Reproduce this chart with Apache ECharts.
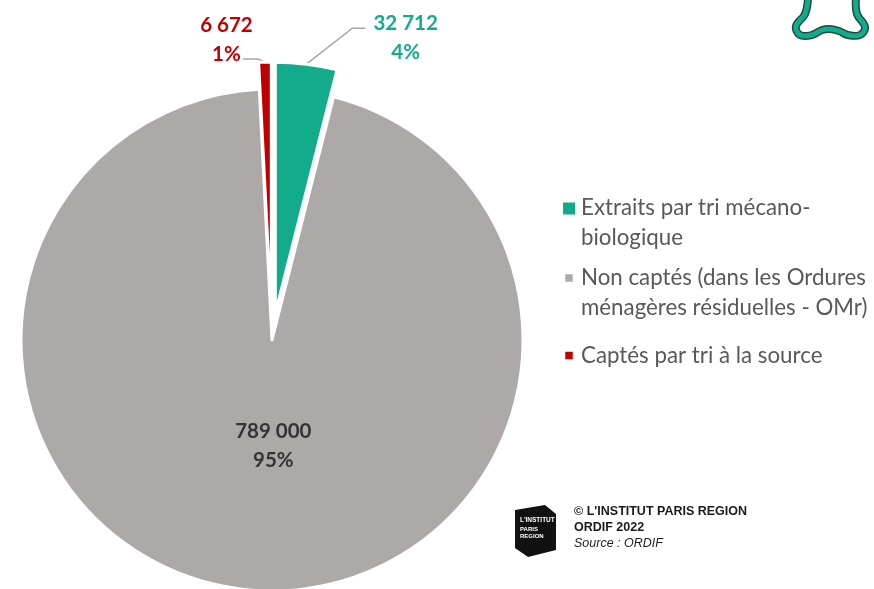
<!DOCTYPE html>
<html>
<head>
<meta charset="utf-8">
<script src="https://cdn.jsdelivr.net/npm/echarts@6/dist/echarts.min.js"></script>
<style>
  html, body { margin: 0; padding: 0; background: #fff; }
  #chart { width: 874px; height: 589px; }
</style>
</head>
<body>
<div id="chart"></div>
<script>
// données
var categories = [
    "Extraits par tri mécano-biologique",
    "Non captés (dans les Ordures ménagères résiduelles - OMr)",
    "Captés par tri à la source"
];
var legendLabels = [
    "Extraits par tri mécano-\nbiologique",
    "Non captés (dans les Ordures\nménagères résiduelles - OMr)",
    "Captés par tri à la source"
];
var tonnages = [32712, 789000, 6672];
var colors = ["#12AB8B", "#ADA9A8", "#C00000"];
var labelColors = ["#12AB8B", "#333333", "#C00000"];

var FONT = "Lato, 'Noto Sans', sans-serif";

// 789000 -> "789 000"
function fmt(v) {
    return String(v).replace(/\B(?=(\d{3})+(?!\d))/g, " ");
}

// icônes de légende dans une boîte 14x43 (points minuscules aux coins pour garder la boîte)
var BOX = "M0 0H0.05V0.05H0Z M13.95 42.95H14V43H13.95Z ";
var legendIcons = [
    "path://" + BOX + "M0 0H14V14H0Z",
    "path://" + BOX + "M2.25 1.75H11.75V11.25H2.25Z",
    "path://" + BOX + "M2.25 16.75H11.75V26.25H2.25Z"
];

// longueurs des traits de rappel
var lineLen = [26, 0, 22];
var lineLen2 = [91, 0, 33];

var chart = echarts.init(document.getElementById("chart"));

var pieData = categories.map(function (name, i) {
    return {
        name: name,
        value: tonnages[i],
        selected: i !== 1,
        itemStyle: { color: colors[i] },
        label: {
            position: i === 1 ? "inside" : "outside",
            color: labelColors[i]
        },
        labelLine: { show: i !== 1, length: lineLen[i], length2: lineLen2[i] }
    };
});

// contour du logo en haut à droite
var logoPts = [[808, -2], [805, 14], [796, 26], [800, 35], [812, 35], [822, 30], [830, 29],
    [839, 31], [848, 35], [860, 35], [865, 27], [857, 14], [856, -2]];

var option = {
    animation: false,
    legend: {
        orient: "vertical",
        left: 556,
        top: 188,
        itemWidth: 14,
        itemHeight: 43,
        itemGap: 10,
        selectedMode: false,
        formatter: function (name) {
            return legendLabels[categories.indexOf(name)];
        },
        textStyle: {
            fontFamily: FONT,
            fontSize: 22.3,
            color: "#595959",
            lineHeight: 30
        },
        data: categories.map(function (name, i) {
            return { name: name, icon: legendIcons[i] };
        })
    },
    series: [{
        type: "pie",
        center: [272, 340],
        radius: 251,
        startAngle: 90,
        clockwise: true,
        selectedMode: "multiple",
        selectedOffset: 27,
        avoidLabelOverlap: false,
        itemStyle: { borderColor: "#fff", borderWidth: 3 },
        emphasis: { disabled: true },
        label: {
            fontFamily: FONT,
            fontSize: 20.5,
            fontWeight: "bold",
            lineHeight: 29,
            formatter: function (p) {
                return fmt(p.value) + "\n" + Math.round(p.percent) + "%";
            }
        },
        labelLine: {
            lineStyle: { color: "#A6A6A6", width: 1.5 }
        },
        labelLayout: function (p) {
            var pts = p.labelLinePoints;
            if (p.dataIndex === 1) {
                return { dx: 14, dy: -22 };
            }
            if (!pts) return {};
            var a = pts[0];
            var lp = p.dataIndex === 0
                ? [a, [a[0] + 46, a[1] - 36], [a[0] + 59, a[1] - 36]]
                : [a, [a[0] - 7, a[1] - 3], [a[0] - 22, a[1] - 3]];
            return { align: "center", verticalAlign: "middle", labelLinePoints: lp };
        },
        data: pieData
    }],
    graphic: [
        {
            type: "polyline",
            shape: { points: logoPts, smooth: 0.4 },
            style: { fill: null, stroke: "#1f4a3e", lineWidth: 8 }
        },
        {
            type: "polyline",
            shape: { points: logoPts, smooth: 0.4 },
            style: { fill: null, stroke: "#12AB8B", lineWidth: 5 }
        },
        // logo institut
        {
            type: "polygon",
            shape: { points: [[515, 510], [545, 505], [556, 514], [556, 550], [528, 557], [515, 548]] },
            style: { fill: "#111" }
        },
        {
            type: "text", left: 520, top: 517,
            style: { text: "L'INSTITUT", fill: "#fff", font: "bold 6.5px 'Liberation Sans Narrow', 'Liberation Sans', sans-serif" }
        },
        {
            type: "text", left: 520, top: 526,
            style: { text: "PARIS\nREGION", fill: "#fff", lineHeight: 7, font: "bold 6px 'Liberation Sans Narrow', 'Liberation Sans', sans-serif" }
        },
        {
            type: "text", left: 574, top: 504,
            style: {
                text: "© L'INSTITUT PARIS REGION\nORDIF 2022",
                fill: "#1a1a1a", lineHeight: 16,
                font: "bold 12.5px 'Liberation Sans', Arial, sans-serif"
            }
        },
        {
            type: "text", left: 574, top: 537,
            style: {
                text: "Source : ORDIF",
                fill: "#1a1a1a",
                font: "italic 12.5px 'Liberation Sans', Arial, sans-serif"
            }
        }
    ]
};

chart.setOption(option);
</script>
</body>
</html>
